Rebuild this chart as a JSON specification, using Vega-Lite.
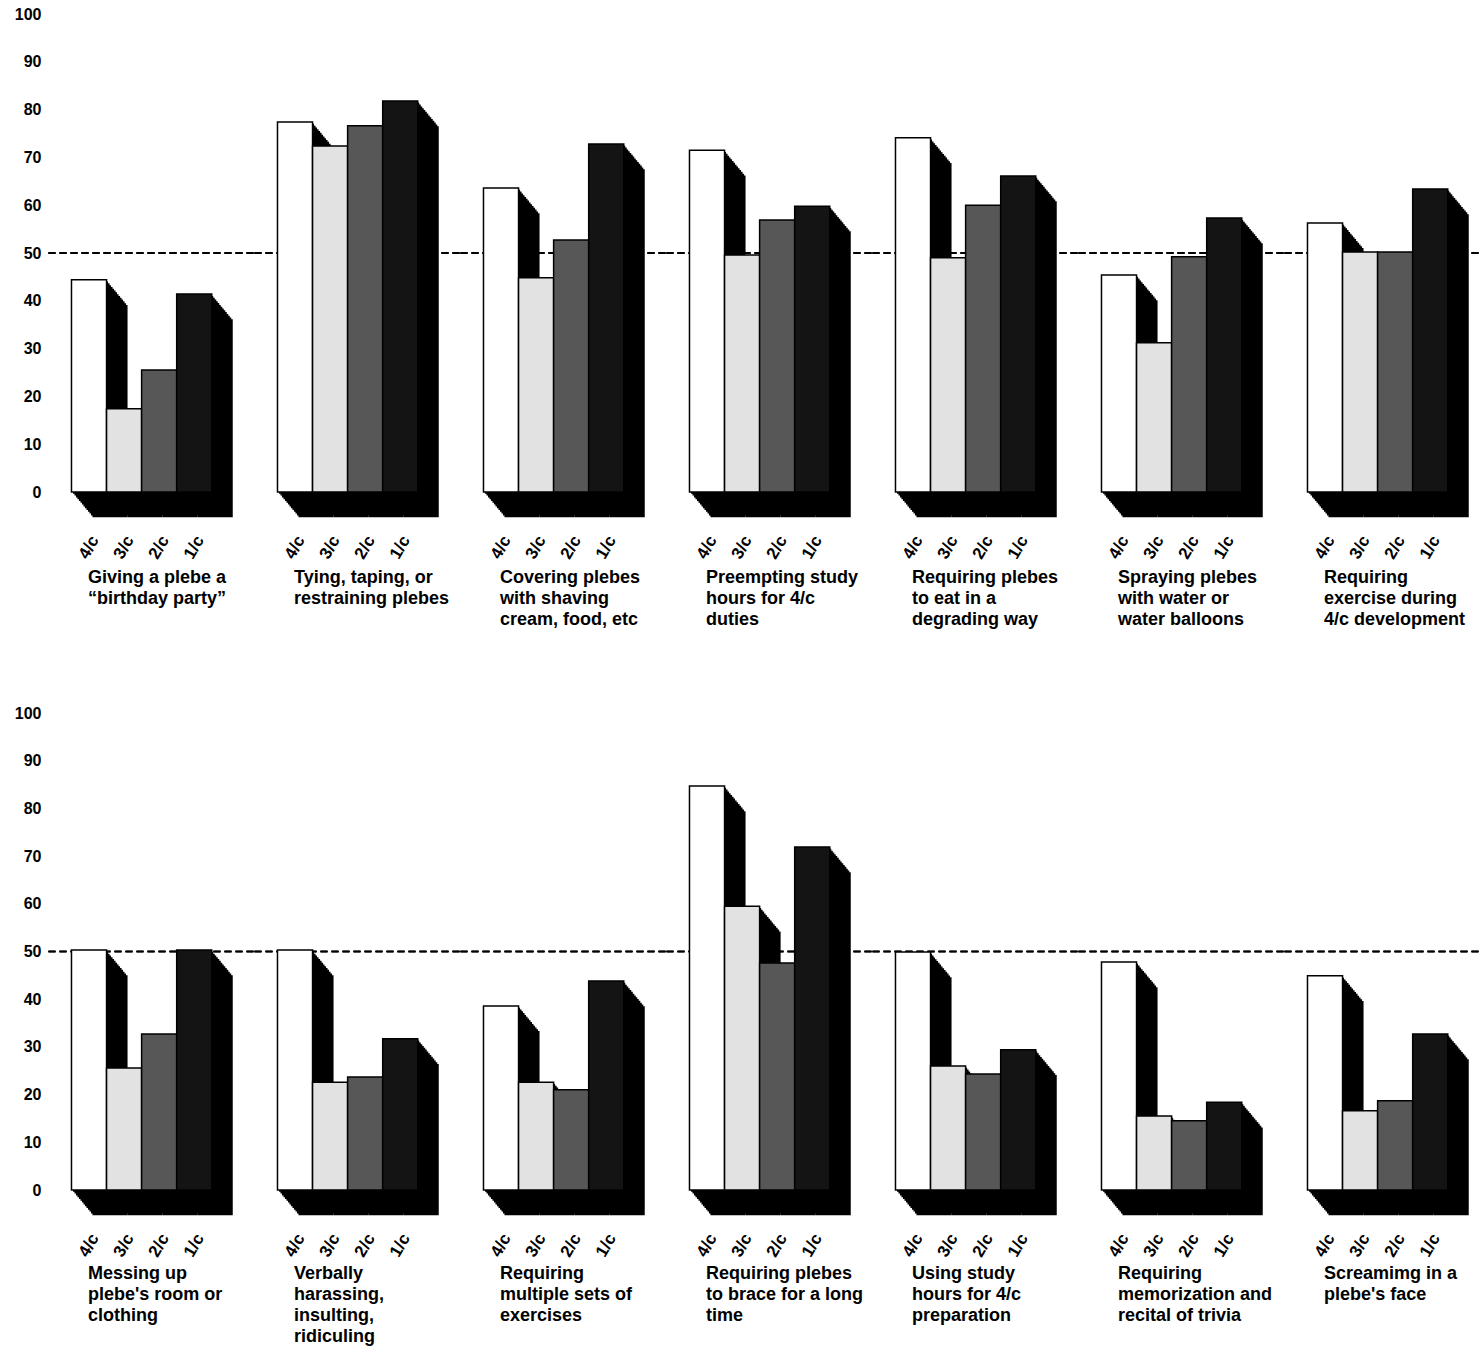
{
  "$schema": "https://vega.github.io/schema/vega-lite/v6.json",
  "padding": {"left": 14, "top": 6, "right": 0, "bottom": 0},
  "background": "#ffffff",
  "config": {
    "font": "Liberation Sans",
    "view": {"stroke": null},
    "axis": {"labelFont": "Liberation Sans", "labelFontWeight": "bold", "labelColor": "#000000", "grid": false, "domain": false, "ticks": false, "tickSize": 0, "title": null, "zindex": 1}
  },
  "datasets": {
    "top": [
      {"g": "Giving a plebe a|“birthday party”", "p": 1, "c": "4/c", "v": 44.4},
      {"g": "Giving a plebe a|“birthday party”", "p": 1, "c": "3/c", "v": 17.4},
      {"g": "Giving a plebe a|“birthday party”", "p": 1, "c": "2/c", "v": 25.5},
      {"g": "Giving a plebe a|“birthday party”", "p": 1, "c": "1/c", "v": 41.4},
      {"g": "Tying, taping, or|restraining plebes", "p": 2, "c": "4/c", "v": 77.4},
      {"g": "Tying, taping, or|restraining plebes", "p": 2, "c": "3/c", "v": 72.4},
      {"g": "Tying, taping, or|restraining plebes", "p": 2, "c": "2/c", "v": 76.6},
      {"g": "Tying, taping, or|restraining plebes", "p": 2, "c": "1/c", "v": 81.8},
      {"g": "Covering plebes|with shaving|cream, food, etc", "p": 3, "c": "4/c", "v": 63.6},
      {"g": "Covering plebes|with shaving|cream, food, etc", "p": 3, "c": "3/c", "v": 44.8},
      {"g": "Covering plebes|with shaving|cream, food, etc", "p": 3, "c": "2/c", "v": 52.7},
      {"g": "Covering plebes|with shaving|cream, food, etc", "p": 3, "c": "1/c", "v": 72.8},
      {"g": "Preempting study|hours for 4/c|duties", "p": 4, "c": "4/c", "v": 71.5},
      {"g": "Preempting study|hours for 4/c|duties", "p": 4, "c": "3/c", "v": 49.6},
      {"g": "Preempting study|hours for 4/c|duties", "p": 4, "c": "2/c", "v": 56.9},
      {"g": "Preempting study|hours for 4/c|duties", "p": 4, "c": "1/c", "v": 59.8},
      {"g": "Requiring plebes|to eat in a|degrading way", "p": 5, "c": "4/c", "v": 74.1},
      {"g": "Requiring plebes|to eat in a|degrading way", "p": 5, "c": "3/c", "v": 49.0},
      {"g": "Requiring plebes|to eat in a|degrading way", "p": 5, "c": "2/c", "v": 60.0},
      {"g": "Requiring plebes|to eat in a|degrading way", "p": 5, "c": "1/c", "v": 66.1},
      {"g": "Spraying plebes|with water or|water balloons", "p": 6, "c": "4/c", "v": 45.4},
      {"g": "Spraying plebes|with water or|water balloons", "p": 6, "c": "3/c", "v": 31.2},
      {"g": "Spraying plebes|with water or|water balloons", "p": 6, "c": "2/c", "v": 49.2},
      {"g": "Spraying plebes|with water or|water balloons", "p": 6, "c": "1/c", "v": 57.3},
      {"g": "Requiring|exercise during|4/c development", "p": 7, "c": "4/c", "v": 56.3},
      {"g": "Requiring|exercise during|4/c development", "p": 7, "c": "3/c", "v": 50.2},
      {"g": "Requiring|exercise during|4/c development", "p": 7, "c": "2/c", "v": 50.2},
      {"g": "Requiring|exercise during|4/c development", "p": 7, "c": "1/c", "v": 63.4}
    ],
    "bottom": [
      {"g": "Messing up|plebe's room or|clothing", "p": 1, "c": "4/c", "v": 50.3},
      {"g": "Messing up|plebe's room or|clothing", "p": 1, "c": "3/c", "v": 25.6},
      {"g": "Messing up|plebe's room or|clothing", "p": 1, "c": "2/c", "v": 32.7},
      {"g": "Messing up|plebe's room or|clothing", "p": 1, "c": "1/c", "v": 50.3},
      {"g": "Verbally|harassing,|insulting,|ridiculing", "p": 2, "c": "4/c", "v": 50.3},
      {"g": "Verbally|harassing,|insulting,|ridiculing", "p": 2, "c": "3/c", "v": 22.6},
      {"g": "Verbally|harassing,|insulting,|ridiculing", "p": 2, "c": "2/c", "v": 23.7},
      {"g": "Verbally|harassing,|insulting,|ridiculing", "p": 2, "c": "1/c", "v": 31.7},
      {"g": "Requiring|multiple sets of|exercises", "p": 3, "c": "4/c", "v": 38.6},
      {"g": "Requiring|multiple sets of|exercises", "p": 3, "c": "3/c", "v": 22.6},
      {"g": "Requiring|multiple sets of|exercises", "p": 3, "c": "2/c", "v": 21.0},
      {"g": "Requiring|multiple sets of|exercises", "p": 3, "c": "1/c", "v": 43.8},
      {"g": "Requiring plebes|to brace for a long|time", "p": 4, "c": "4/c", "v": 84.7},
      {"g": "Requiring plebes|to brace for a long|time", "p": 4, "c": "3/c", "v": 59.5},
      {"g": "Requiring plebes|to brace for a long|time", "p": 4, "c": "2/c", "v": 47.6},
      {"g": "Requiring plebes|to brace for a long|time", "p": 4, "c": "1/c", "v": 71.9},
      {"g": "Using study|hours for 4/c|preparation", "p": 5, "c": "4/c", "v": 49.9},
      {"g": "Using study|hours for 4/c|preparation", "p": 5, "c": "3/c", "v": 26.0},
      {"g": "Using study|hours for 4/c|preparation", "p": 5, "c": "2/c", "v": 24.3},
      {"g": "Using study|hours for 4/c|preparation", "p": 5, "c": "1/c", "v": 29.4},
      {"g": "Requiring|memorization and|recital of trivia", "p": 6, "c": "4/c", "v": 47.8},
      {"g": "Requiring|memorization and|recital of trivia", "p": 6, "c": "3/c", "v": 15.5},
      {"g": "Requiring|memorization and|recital of trivia", "p": 6, "c": "2/c", "v": 14.5},
      {"g": "Requiring|memorization and|recital of trivia", "p": 6, "c": "1/c", "v": 18.4},
      {"g": "Screamimg in a|plebe's face", "p": 7, "c": "4/c", "v": 44.9},
      {"g": "Screamimg in a|plebe's face", "p": 7, "c": "3/c", "v": 16.6},
      {"g": "Screamimg in a|plebe's face", "p": 7, "c": "2/c", "v": 18.7},
      {"g": "Screamimg in a|plebe's face", "p": 7, "c": "1/c", "v": 32.7}
    ]
  },
  "vconcat": [
    {
      "data": {"name": "top"},
      "spacing": 0,
      "bounds": "flush",
      "facet": {"column": {"field": "g", "type": "nominal", "sort": {"field": "p", "op": "min"},
        "header": {"title": null, "labelOrient": "bottom", "labelAlign": "left", "labelAnchor": "start", "labelBaseline": "top", "labelFont": "Liberation Sans", "labelFontSize": 18, "labelFontWeight": "bold", "labelColor": "#000000", "labelLineHeight": 21, "labelPadding": 8, "labelLimit": 0,
          "labelExpr": "split('\u200b\u00a0\u00a0\u00a0\u00a0\u00a0\u00a0\u00a0\u00a0' + join(split(datum.value, '|'), '|\u200b\u00a0\u00a0\u00a0\u00a0\u00a0\u00a0\u00a0\u00a0'), '|')"}}},
      "spec": {
        "width": 205.5,
        "height": 478,
        "encoding": {
          "x": {"field": "c", "type": "nominal", "sort": ["4/c", "3/c", "2/c", "1/c"],
            "scale": {"paddingInner": 0, "paddingOuter": 0.93, "align": 0.36},
            "axis": {"labelAngle": -60, "labelAlign": "center", "labelBaseline": "middle", "labelFontSize": 17, "labelPadding": 55}},
          "y": {"field": "v", "type": "quantitative", "scale": {"domain": [0, 100]},
            "axis": {"values": [0, 10, 20, 30, 40, 50, 60, 70, 80, 90, 100], "labelFontSize": 16, "labelPadding": 7}}
        },
        "layer": [
          {"mark": {"type": "rule", "color": "#000000", "strokeWidth": 1.5, "strokeDash": [7, 4]}, "encoding": {"x": null, "y": {"datum": 50}}},
          {"mark": {"type": "bar", "color": "#000000", "xOffset": 1.5, "yOffset": 1.8, "y2Offset": 1.8}},
          {"mark": {"type": "bar", "color": "#000000", "xOffset": 3, "yOffset": 3.6, "y2Offset": 3.6}},
          {"mark": {"type": "bar", "color": "#000000", "xOffset": 4.5, "yOffset": 5.4, "y2Offset": 5.4}},
          {"mark": {"type": "bar", "color": "#000000", "xOffset": 6, "yOffset": 7.2, "y2Offset": 7.2}},
          {"mark": {"type": "bar", "color": "#000000", "xOffset": 7.5, "yOffset": 9, "y2Offset": 9}},
          {"mark": {"type": "bar", "color": "#000000", "xOffset": 9, "yOffset": 10.8, "y2Offset": 10.8}},
          {"mark": {"type": "bar", "color": "#000000", "xOffset": 10.5, "yOffset": 12.6, "y2Offset": 12.6}},
          {"mark": {"type": "bar", "color": "#000000", "xOffset": 12, "yOffset": 14.4, "y2Offset": 14.4}},
          {"mark": {"type": "bar", "color": "#000000", "xOffset": 13.5, "yOffset": 16.2, "y2Offset": 16.2}},
          {"mark": {"type": "bar", "color": "#000000", "xOffset": 15, "yOffset": 18, "y2Offset": 18}},
          {"mark": {"type": "bar", "color": "#000000", "xOffset": 16.5, "yOffset": 19.8, "y2Offset": 19.8}},
          {"mark": {"type": "bar", "color": "#000000", "xOffset": 18, "yOffset": 21.6, "y2Offset": 21.6}},
          {"mark": {"type": "bar", "color": "#000000", "xOffset": 19.5, "yOffset": 23.4, "y2Offset": 23.4}},
          {"mark": {"type": "bar", "color": "#000000", "xOffset": 21, "yOffset": 25.2, "y2Offset": 25.2}},
          {"mark": {"type": "bar", "stroke": "#000000", "strokeWidth": 1.5},
            "encoding": {"fill": {"field": "c", "type": "nominal", "scale": {"domain": ["4/c", "3/c", "2/c", "1/c"], "range": ["#ffffff", "#e2e2e2", "#575757", "#141414"]}, "legend": null}}}
        ]
      }
    },
    {
      "data": {"name": "bottom"},
      "spacing": 0,
      "bounds": "flush",
      "facet": {"column": {"field": "g", "type": "nominal", "sort": {"field": "p", "op": "min"},
        "header": {"title": null, "labelOrient": "bottom", "labelAlign": "left", "labelAnchor": "start", "labelBaseline": "top", "labelFont": "Liberation Sans", "labelFontSize": 18, "labelFontWeight": "bold", "labelColor": "#000000", "labelLineHeight": 21, "labelPadding": 6, "labelLimit": 0,
          "labelExpr": "split('\u200b\u00a0\u00a0\u00a0\u00a0\u00a0\u00a0\u00a0\u00a0' + join(split(datum.value, '|'), '|\u200b\u00a0\u00a0\u00a0\u00a0\u00a0\u00a0\u00a0\u00a0'), '|')"}}},
      "spec": {
        "width": 205.5,
        "height": 477,
        "encoding": {
          "x": {"field": "c", "type": "nominal", "sort": ["4/c", "3/c", "2/c", "1/c"],
            "scale": {"paddingInner": 0, "paddingOuter": 0.93, "align": 0.36},
            "axis": {"labelAngle": -60, "labelAlign": "center", "labelBaseline": "middle", "labelFontSize": 17, "labelPadding": 55}},
          "y": {"field": "v", "type": "quantitative", "scale": {"domain": [0, 100]},
            "axis": {"values": [0, 10, 20, 30, 40, 50, 60, 70, 80, 90, 100], "labelFontSize": 16, "labelPadding": 7}}
        },
        "layer": [
          {"mark": {"type": "rule", "color": "#000000", "strokeWidth": 1.5, "strokeDash": [7, 4]}, "encoding": {"x": null, "y": {"datum": 50}}},
          {"mark": {"type": "bar", "color": "#000000", "xOffset": 1.5, "yOffset": 1.8, "y2Offset": 1.8}},
          {"mark": {"type": "bar", "color": "#000000", "xOffset": 3, "yOffset": 3.6, "y2Offset": 3.6}},
          {"mark": {"type": "bar", "color": "#000000", "xOffset": 4.5, "yOffset": 5.4, "y2Offset": 5.4}},
          {"mark": {"type": "bar", "color": "#000000", "xOffset": 6, "yOffset": 7.2, "y2Offset": 7.2}},
          {"mark": {"type": "bar", "color": "#000000", "xOffset": 7.5, "yOffset": 9, "y2Offset": 9}},
          {"mark": {"type": "bar", "color": "#000000", "xOffset": 9, "yOffset": 10.8, "y2Offset": 10.8}},
          {"mark": {"type": "bar", "color": "#000000", "xOffset": 10.5, "yOffset": 12.6, "y2Offset": 12.6}},
          {"mark": {"type": "bar", "color": "#000000", "xOffset": 12, "yOffset": 14.4, "y2Offset": 14.4}},
          {"mark": {"type": "bar", "color": "#000000", "xOffset": 13.5, "yOffset": 16.2, "y2Offset": 16.2}},
          {"mark": {"type": "bar", "color": "#000000", "xOffset": 15, "yOffset": 18, "y2Offset": 18}},
          {"mark": {"type": "bar", "color": "#000000", "xOffset": 16.5, "yOffset": 19.8, "y2Offset": 19.8}},
          {"mark": {"type": "bar", "color": "#000000", "xOffset": 18, "yOffset": 21.6, "y2Offset": 21.6}},
          {"mark": {"type": "bar", "color": "#000000", "xOffset": 19.5, "yOffset": 23.4, "y2Offset": 23.4}},
          {"mark": {"type": "bar", "color": "#000000", "xOffset": 21, "yOffset": 25.2, "y2Offset": 25.2}},
          {"mark": {"type": "bar", "stroke": "#000000", "strokeWidth": 1.5},
            "encoding": {"fill": {"field": "c", "type": "nominal", "scale": {"domain": ["4/c", "3/c", "2/c", "1/c"], "range": ["#ffffff", "#e2e2e2", "#575757", "#141414"]}, "legend": null}}}
        ]
      }
    }
  ],
  "spacing": 75
}
